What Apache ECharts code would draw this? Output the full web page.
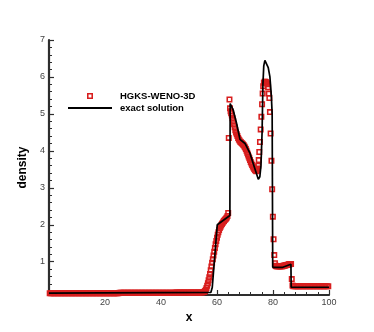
<!DOCTYPE html>
<html>
<head>
<meta charset="utf-8">
<script src="https://cdn.jsdelivr.net/npm/echarts@6/dist/echarts.min.js"></script>
<style>
  html, body { margin: 0; padding: 0; background: #fff; }
  #main { width: 374px; height: 332px; }
</style>
</head>
<body>
<div id="main"></div>
<script>
// legend names
const seriesNames = ['HGKS-WENO-3D', 'exact solution']

// tick labels / tick positions
const xLabels = [20, 40, 60, 80, 100]
const yLabels = [1, 2, 3, 4, 5, 6, 7]
const yMinorTicks = [0.2, 0.4, 0.6, 0.8, 1.2, 1.4, 1.6, 1.8, 2.2, 2.4, 2.6, 2.8, 3.2, 3.4, 3.6, 3.8,
  4.2, 4.4, 4.6, 4.8, 5.2, 5.4, 5.6, 5.8, 6.2, 6.4, 6.6, 6.8]

// exact solution (x, density)
const exactSolution = [
  [0, 0.15], [57.8, 0.17], [58.3, 0.3], [60.1, 2.0], [64.6, 2.25], [64.7, 5.28], [65.8, 5.1],
  [67, 4.74], [68.2, 4.31], [70, 4.2], [71.8, 3.93], [73.3, 3.57], [74.75, 3.23], [75.3, 3.3],
  [75.7, 3.6], [76.1, 4.5], [76.4, 5.8], [76.7, 6.3], [77.1, 6.45], [77.6, 6.4], [78.3, 6.25],
  [78.9, 6.0], [79.4, 5.5], [79.7, 5.0], [79.9, 0.85], [83.5, 0.85], [86.4, 0.93], [86.5, 0.31],
  [100, 0.31]
]

// HGKS-WENO-3D (x, density)
const hgksWeno3d = [
  [0.25, 0.15], [0.75, 0.15], [1.25, 0.15], [1.75, 0.15], [2.25, 0.15], [2.75, 0.15], [3.25, 0.15], [3.75, 0.15], [4.25, 0.15], [4.75, 0.15],
  [5.25, 0.15], [5.75, 0.15], [6.25, 0.15], [6.75, 0.15], [7.25, 0.15], [7.75, 0.15], [8.25, 0.15], [8.75, 0.15], [9.25, 0.15], [9.75, 0.15],
  [10.25, 0.15], [10.75, 0.15], [11.25, 0.15], [11.75, 0.15], [12.25, 0.15], [12.75, 0.15], [13.25, 0.15], [13.75, 0.15], [14.25, 0.15], [14.75, 0.15],
  [15.25, 0.15], [15.75, 0.15], [16.25, 0.15], [16.75, 0.15], [17.25, 0.15], [17.75, 0.15], [18.25, 0.15], [18.75, 0.15], [19.25, 0.15], [19.75, 0.15],
  [20.25, 0.15], [20.75, 0.15], [21.25, 0.15], [21.75, 0.15], [22.25, 0.15], [22.75, 0.15], [23.25, 0.15], [23.75, 0.15], [24.25, 0.15], [24.75, 0.15],
  [25.25, 0.16], [25.75, 0.16], [26.25, 0.16], [26.75, 0.16], [27.25, 0.16], [27.75, 0.16], [28.25, 0.16], [28.75, 0.16], [29.25, 0.16], [29.75, 0.16],
  [30.25, 0.16], [30.75, 0.16], [31.25, 0.16], [31.75, 0.16], [32.25, 0.16], [32.75, 0.16], [33.25, 0.16], [33.75, 0.16], [34.25, 0.16], [34.75, 0.16],
  [35.25, 0.16], [35.75, 0.16], [36.25, 0.16], [36.75, 0.16], [37.25, 0.16], [37.75, 0.16], [38.25, 0.16], [38.75, 0.16], [39.25, 0.16], [39.75, 0.16],
  [40.25, 0.16], [40.75, 0.16], [41.25, 0.16], [41.75, 0.16], [42.25, 0.16], [42.75, 0.16], [43.25, 0.16], [43.75, 0.16], [44.25, 0.16], [44.75, 0.16],
  [45.25, 0.17], [45.75, 0.17], [46.25, 0.17], [46.75, 0.17], [47.25, 0.17], [47.75, 0.17], [48.25, 0.17], [48.75, 0.17], [49.25, 0.17], [49.75, 0.17],
  [50.25, 0.17], [50.75, 0.17], [51.25, 0.17], [51.75, 0.17], [52.25, 0.17], [52.75, 0.17], [53.25, 0.17], [53.75, 0.17], [54.25, 0.17], [54.75, 0.17],
  [55.25, 0.18], [55.5, 0.19], [55.75, 0.21], [56, 0.24], [56.25, 0.29], [56.5, 0.35], [56.75, 0.42], [57, 0.5],
  [57.25, 0.58], [57.5, 0.67], [57.75, 0.77], [58, 0.87], [58.25, 0.97], [58.5, 1.07], [58.75, 1.17], [59, 1.27],
  [59.25, 1.37], [59.5, 1.47], [59.75, 1.56], [60, 1.65], [60.25, 1.73], [60.5, 1.8], [60.75, 1.86], [61, 1.91],
  [61.25, 1.95], [61.5, 1.99], [61.75, 2.02], [62, 2.05], [62.25, 2.08], [62.5, 2.1], [62.75, 2.13], [63, 2.15],
  [63.25, 2.17], [63.5, 2.2], [63.75, 2.24], [64, 2.32], [64.2, 4.35], [64.45, 5.39], [64.65, 5.15], [64.85, 5.07],
  [65.05, 5.02], [65.3, 4.96], [65.55, 4.88], [65.8, 4.8], [66.05, 4.72], [66.3, 4.64], [66.55, 4.56], [66.8, 4.5],
  [67.05, 4.45], [67.3, 4.4], [67.55, 4.35], [67.8, 4.31], [68.05, 4.28], [68.3, 4.25], [68.55, 4.23], [68.8, 4.21],
  [69.05, 4.19], [69.3, 4.17], [69.55, 4.15], [69.8, 4.12], [70.05, 4.09], [70.3, 4.05], [70.55, 4.0], [70.8, 3.95],
  [71.05, 3.9], [71.3, 3.85], [71.55, 3.8], [71.8, 3.75], [72.05, 3.7], [72.3, 3.66], [72.55, 3.62], [72.8, 3.58],
  [73.05, 3.54], [73.3, 3.51], [73.55, 3.48], [73.8, 3.46], [74.05, 3.45], [74.3, 3.47], [74.55, 3.52], [74.75, 3.6],
  [74.9, 3.75], [75.1, 3.97], [75.35, 4.24], [75.6, 4.58], [75.85, 4.92], [76.1, 5.26], [76.3, 5.55], [76.5, 5.75],
  [76.75, 5.84], [77, 5.87], [77.25, 5.87], [77.5, 5.86], [77.75, 5.84], [78, 5.8], [78.25, 5.72], [78.5, 5.55],
  [78.7, 5.43], [78.9, 5.05], [79.15, 4.47], [79.45, 3.73], [79.7, 2.96], [79.95, 2.22], [80.2, 1.61], [80.45, 1.18],
  [80.7, 0.96], [80.95, 0.89], [81.2, 0.88], [81.45, 0.88], [81.7, 0.88], [81.95, 0.88], [82.2, 0.88], [82.45, 0.88],
  [82.7, 0.88], [82.95, 0.88], [83.2, 0.88], [83.45, 0.88], [83.7, 0.89], [83.95, 0.89], [84.2, 0.9], [84.45, 0.9],
  [84.7, 0.91], [84.95, 0.91], [85.2, 0.92], [85.45, 0.92], [85.7, 0.93], [85.95, 0.93], [86.2, 0.94], [86.45, 0.94],
  [86.7, 0.53], [86.95, 0.36], [87.25, 0.34], [87.75, 0.34], [88.25, 0.34], [88.75, 0.34], [89.25, 0.34], [89.75, 0.34],
  [90.25, 0.34], [90.75, 0.34], [91.25, 0.34], [91.75, 0.34], [92.25, 0.34], [92.75, 0.34], [93.25, 0.34], [93.75, 0.34],
  [94.25, 0.34], [94.75, 0.34], [95.25, 0.34], [95.75, 0.34], [96.25, 0.34], [96.75, 0.34], [97.25, 0.34], [97.75, 0.34],
  [98.25, 0.34], [98.75, 0.34], [99.25, 0.34], [99.75, 0.34]
]

const fontFamily = '"Liberation Sans", Arial, sans-serif'
const axisColor = '#2e2e2e'
// hollow square marker (outer ring, inner hole)
const squareIcon = 'path://M0,0H10V10H0ZM2.6,2.6V7.4H7.4V2.6Z'
// plain line for the legend of the exact solution
const lineIcon = 'path://M0,0H44V2H0Z'

const myChart = echarts.init(document.getElementById('main'), null, { renderer: 'canvas' })

const option = {
  animation: false,
  backgroundColor: '#fff',
  textStyle: { fontFamily: fontFamily },
  grid: {
    left: 49,
    right: 45,
    top: 40,
    bottom: 37
  },
  legend: {
    orient: 'vertical',
    left: 68,
    top: 90,
    padding: 0,
    itemWidth: 44,
    itemHeight: 6,
    itemGap: 0,
    selectedMode: false,
    textStyle: {
      fontFamily: fontFamily,
      fontSize: 9.5,
      fontWeight: 'bold',
      color: '#000',
      lineHeight: 12,
      padding: [0, 0, 0, 3]
    },
    data: [
      { name: seriesNames[0], icon: squareIcon },
      { name: seriesNames[1], icon: lineIcon, itemStyle: { color: '#000' } }
    ]
  },
  xAxis: {
    type: 'value',
    min: 0,
    max: 100,
    interval: 20,
    name: 'x',
    nameLocation: 'middle',
    nameGap: 9,
    nameTextStyle: { fontFamily: fontFamily, fontSize: 12, fontWeight: 'bold', color: '#000' },
    axisLine: { show: true, onZero: false, lineStyle: { color: axisColor, width: 2.2 } },
    axisTick: { show: true, inside: true, length: 5, lineStyle: { color: axisColor, width: 1.2 } },
    minorTick: { show: true, splitNumber: 5, length: 3, lineStyle: { color: axisColor, width: 1 } },
    axisLabel: {
      customValues: xLabels,
      margin: 3,
      fontFamily: fontFamily,
      fontSize: 9,
      color: '#444'
    },
    splitLine: { show: false },
    minorSplitLine: { show: false }
  },
  yAxis: [
    {
      type: 'value',
      min: 0.1,
      max: 7,
      name: 'density',
      nameLocation: 'middle',
      nameGap: 20,
      nameTextStyle: { fontFamily: fontFamily, fontSize: 12, fontWeight: 'bold', color: '#000' },
      axisLine: { show: true, onZero: false, lineStyle: { color: axisColor, width: 2.2 } },
      axisTick: { show: true, inside: true, length: 5, customValues: yLabels, lineStyle: { color: axisColor, width: 1.2 } },
      axisLabel: {
        customValues: yLabels,
        margin: 4,
        fontFamily: fontFamily,
        fontSize: 9,
        color: '#444'
      },
      splitLine: { show: false }
    },
    {
      type: 'value',
      min: 0.1,
      max: 7,
      position: 'left',
      axisLine: { show: false },
      axisTick: { show: true, inside: true, length: 3, customValues: yMinorTicks, lineStyle: { color: axisColor, width: 1 } },
      axisLabel: { show: false },
      splitLine: { show: false }
    }
  ],
  series: [
    {
      name: seriesNames[0],
      type: 'scatter',
      data: hgksWeno3d,
      symbol: squareIcon,
      symbolSize: 6,
      clip: false,
      itemStyle: { color: '#d81e1e', opacity: 1 },
      z: 2
    },
    {
      name: seriesNames[1],
      type: 'line',
      data: exactSolution,
      symbol: 'none',
      showSymbol: false,
      clip: false,
      lineStyle: { color: '#000', width: 1.7 },
      itemStyle: { color: '#000' },
      z: 3
    }
  ]
}

myChart.setOption(option)
</script>
</body>
</html>
